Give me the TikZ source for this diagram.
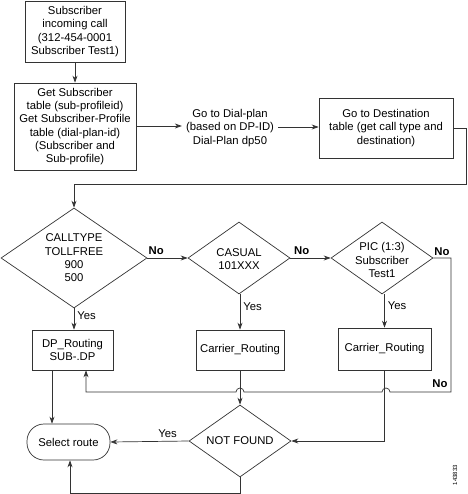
\documentclass[tikz,border=0pt]{standalone}
\usepackage{fontspec}
\setmainfont{Liberation Sans}
\usetikzlibrary{shapes.geometric,arrows.meta}
\begin{document}
\begin{tikzpicture}[x=1pt,y=-1pt,
  every node/.style={font=\fontsize{11.3}{13.3}\selectfont},
  ln/.style={draw=black!80,line width=0.7pt},
  arr/.style={ln,-{Stealth[length=7pt,width=5pt]}},
  box/.style={draw=black!80,line width=0.7pt,rectangle,inner sep=0pt,align=center},
  decision/.style={draw=black!80,line width=0.7pt,diamond,inner sep=0pt},
  term/.style={draw=black!80,line width=0.7pt,rounded corners=17pt,inner sep=0pt,align=center},
  lbl/.style={inner sep=0pt,font=\fontsize{11.3}{13.3}\selectfont},
  nolbl/.style={inner sep=0pt,font=\fontsize{11.3}{13.3}\selectfont\bfseries}]
\useasboundingbox (0,0) rectangle (467,494);

\node[box,minimum width=100pt,minimum height=61pt] (b1) at (75,31.5)
  {Subscriber\\incoming call\\(312-454-0001\\Subscriber Test1)};
\node[box,minimum width=122pt,minimum height=87pt] (b2) at (75,126.5)
  {Get Subscriber\\table (sub-profileid)\\Get Subscriber-Profile\\table (dial-plan-id)\\(Subscriber and\\Sub-profile)};
\node[align=center,inner sep=4pt] (dp) at (230,128)
  {Go to Dial-plan\\(based on DP-ID)\\Dial-Plan dp50};
\node[box,minimum width=134pt,minimum height=60pt] (b3) at (386,128)
  {Go to Destination\\table (get call type and\\destination)};

\node[decision,minimum width=146pt,minimum height=100pt,
  label={[align=center]center:CALLTYPE\\TOLLFREE\\900\\500}] (d1) at (74,258) {};
\node[decision,minimum width=102pt,minimum height=72pt,
  label={[align=center,yshift=-1pt]center:CASUAL\\101XXX}] (d2) at (239,258) {};
\node[decision,minimum width=102pt,minimum height=72pt,
  label={[align=center,yshift=-2pt]center:PIC (1:3)\\Subscriber\\Test1}] (d3) at (382,258) {};

\node[box,minimum width=81pt,minimum height=40pt] (r1) at (72.5,350) {DP\_Routing\\SUB-.DP};
\node[box,minimum width=88pt,minimum height=40pt] (r2) at (240,350) {Carrier\_Routing};
\node[box,minimum width=93pt,minimum height=42pt] (r3) at (384.5,349) {Carrier\_Routing};

\node[decision,minimum width=102pt,minimum height=72pt,
  label={center:NOT FOUND}] (nf) at (240,441) {};
\node[term,minimum width=83pt,minimum height=36pt] (sel) at (68.5,442) {Select route};

\coordinate (c1) at (466,184);
\coordinate (c2) at (451,392);

% connectors
\draw[arr] (b1) -- (b2);
\draw[arr] (b2.east |- 0,126) -- (dp.west |- 0,126);
\draw[arr] (dp.east |- 0,127) -- (b3.west |- 0,127);
\draw[arr] (b3.east) -| (c1) -| (d1.north);
\draw[arr] (d1.east) -- (d2.west) node[nolbl,pos=0.22,above=3pt] {No};
\draw[arr] (d2.east) -- (d3.west) node[nolbl,pos=0.28,above=3pt] {No};
\draw[arr] (d1.south) -- (d1.south |- r1.north) node[lbl,pos=0.35,right=3pt] {Yes};
\draw[arr] (d2.south -| r2.north) -- (r2.north) node[lbl,pos=0.35,right=3pt] {Yes};
\draw[arr] (d3.south -| r3.north) -- (r3.north) node[lbl,pos=0.35,right=3pt] {Yes};
\node[nolbl] (no3) at (442,252) {No};
\node[nolbl] (no4) at (440,384) {No};
\draw[arr] (d3.east) -| (c2) -- (390,392)
  arc[start angle=0,end angle=180,radius=4pt] -- (244,392)
  arc[start angle=0,end angle=180,radius=4pt] -- ([xshift=13.5pt]r1.south |- c2) -- ([xshift=13.5pt]r1.south);
\draw[arr] (r2.south) -- (nf.north);
\draw[arr] (r3.south) |- (nf.east);
\draw[arr] (nf.west) -- (sel.east) node[lbl,pos=0.27,above=3pt] {Yes};
\draw[arr] ([xshift=-20.5pt]r1.south) -- ([xshift=-20.5pt]r1.south |- sel.north);
\draw[arr] (nf.south) -- ++(0,15.5) -| ([xshift=1.5pt]sel.south);

\node[rotate=90,inner sep=0pt,font=\fontsize{6}{7}\selectfont] (id) at (455,475) {143833};
\end{tikzpicture}
\end{document}
